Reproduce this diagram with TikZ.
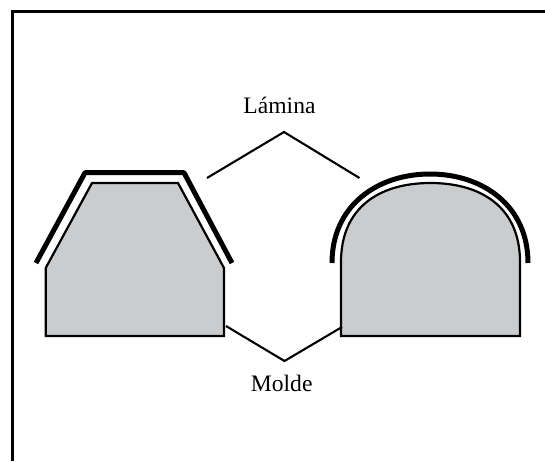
\documentclass[tikz,border=0pt]{standalone}
\usepackage{fontspec}
\setmainfont{Liberation Serif}
\definecolor{moldgray}{RGB}{203,204,206}
\tikzset{
  frameline/.style={line width=3pt,line cap=butt,line join=miter},
  mold/.style={draw=black,fill=moldgray,line width=2.2pt,line join=miter},
  sheet/.style={draw=black,line width=5pt,line cap=butt,line join=round},
  leader/.style={draw=black,line width=2.1pt,line join=miter},
  lbl/.style={font=\fontsize{23.6}{26}\selectfont,inner sep=0pt,anchor=base,text=black}
}
\begin{document}
\begin{tikzpicture}[x=1pt,y=-1pt]
\useasboundingbox (0,0) rectangle (545,461);
\draw[frameline] (12.3,461) -- (12.3,11.7) -- (545,11.7);
% molds
\path[mold] (45.7,268) -- (92,183) -- (178,183) -- (224,268) -- (224,336) -- (45.7,336) -- cycle;
\path[mold] (341,336) -- (341,262) .. controls (341,207) and (380,183) .. (430.5,183) .. controls (481,183) and (520,207) .. (520,262) -- (520,336) -- cycle;
% sheets
\path[sheet] (36,263) -- (85,172.7) -- (184,172.7) -- (232,263);
\path[sheet] (332,263) .. controls (332,205) and (378,174) .. (430,174) .. controls (482,174) and (528,205) .. (528,263);
% labels
\node[lbl] (lamina) at (279.5,113) {Lámina};
\node[lbl] (molde) at (281.7,391) {Molde};
% leaders
\coordinate (la) at (207,178);
\coordinate (lb) at (284,132);
\coordinate (lc) at (359.5,178);
\coordinate (ma) at (226,326);
\coordinate (mb) at (284.5,361);
\coordinate (mc) at (342,327);
\draw[leader] (la) -- (lb) -- (lc);
\draw[leader] (ma) -- (mb) -- (mc);
\end{tikzpicture}
\end{document}
